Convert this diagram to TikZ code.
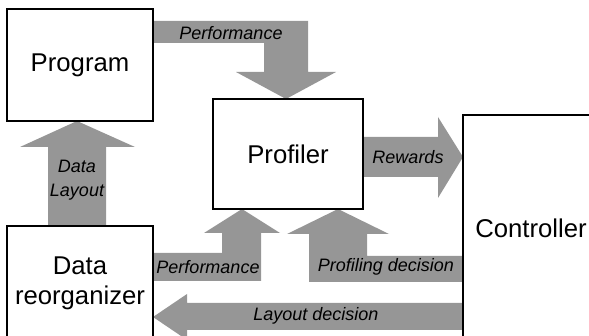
\documentclass[tikz,border=0pt]{standalone}
\usepackage{fontspec}
\setmainfont{Liberation Sans}
\definecolor{arrgray}{RGB}{150,150,150}
\begin{document}
\begin{tikzpicture}[x=1pt,y=-1pt,
  box/.style={draw=black,line width=1.3pt,fill=white,inner sep=0pt,align=center,
    font=\fontsize{25.7}{30}\selectfont},
  fat/.style={fill=arrgray,draw=none},
  lbl/.style={inner sep=0pt,font=\fontsize{18}{24}\selectfont\itshape,align=center}]
\useasboundingbox (0,0) rectangle (589,336);
\begin{scope}
\clip (0,0) rectangle (589,336);
% fat arrows
\path[fat] (153,21) -- (308,21) -- (308,72) -- (336,72) -- (286,99) -- (236,72) -- (264,72) -- (264,43) -- (153,43) -- cycle;
\path[fat] (48,226) -- (48,147) -- (20,147) -- (77,121) -- (135,147) -- (106,147) -- (106,226) -- cycle;
\path[fat] (153,253) -- (222,253) -- (222,233) -- (204,233) -- (242,209) -- (280,233) -- (261,233) -- (261,281) -- (153,281) -- cycle;
\path[fat] (463,256) -- (367,256) -- (367,234) -- (389,234) -- (338,209) -- (287,234) -- (309,234) -- (309,282) -- (463,282) -- cycle;
\path[fat] (363,137) -- (438,137) -- (438,117) -- (463,157) -- (438,198) -- (438,177) -- (363,177) -- cycle;
\path[fat] (463,303) -- (187,303) -- (187,294) -- (153,317) -- (187,340) -- (187,330) -- (463,330) -- cycle;
% boxes
\node[box,minimum width=146pt,minimum height=112pt] (prog) at (80,65) {Program};
\node[box,minimum width=150pt,minimum height=110pt] (prof) at (288,154) {Profiler};
\node[box,minimum width=136pt,minimum height=226pt] (ctrl) at (531,228) {Controller};
\node[box,minimum width=146pt,minimum height=114pt] (reorg) at (80,283) {Data\\reorganizer};
\end{scope}
% labels
\node[lbl] (l1) at (231,33) {Performance};
\node[lbl] (l2) at (77,180) {Data\\Layout};
\node[lbl] (l3) at (208,267) {Performance};
\node[lbl] (l4) at (408,157) {Rewards};
\node[lbl] (l5) at (386,267) {Profiling decision};
\node[lbl] (l6) at (316,316) {Layout decision};
\end{tikzpicture}
\end{document}
